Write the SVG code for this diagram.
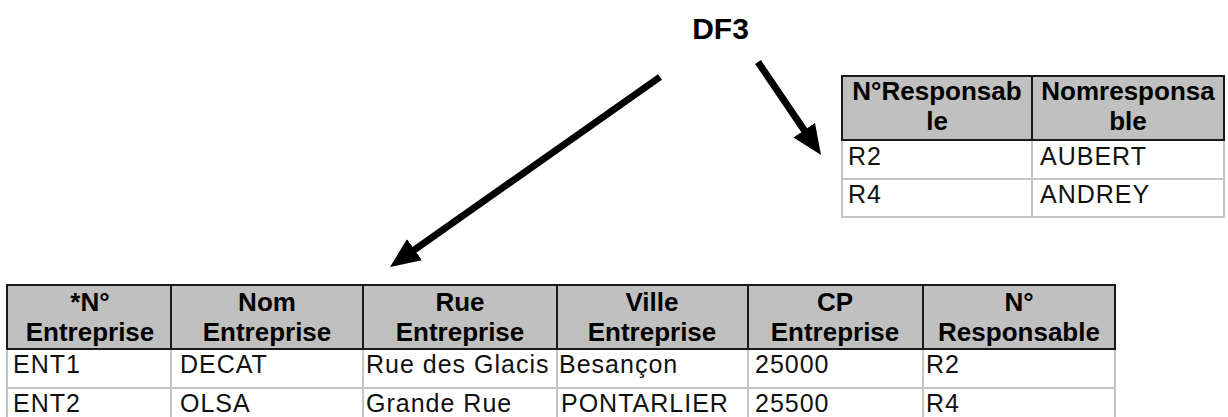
<svg xmlns="http://www.w3.org/2000/svg" width="1228" height="417" viewBox="0 0 1228 417">
  <style>
    .hdr { fill: #c0c0c0; stroke: #1a1a1a; stroke-width: 2; }
    .hdiv { stroke: #1a1a1a; stroke-width: 2; }
    .body { fill: #ffffff; stroke: #c4c4c4; stroke-width: 2; }
    .bdiv { stroke: #c4c4c4; stroke-width: 2; }
    .ht { font-family: "Liberation Sans", Arial, sans-serif; font-weight: bold; font-size: 26px; fill: #000; text-anchor: middle; }
    .bt { font-family: "Liberation Sans", Arial, sans-serif; font-size: 25px; letter-spacing: 1px; fill: #111; }
    .title { font-family: "Liberation Sans", Arial, sans-serif; font-weight: bold; font-size: 30px; fill: #000; text-anchor: middle; }
    .conn { stroke: #000; stroke-width: 7; fill: none; }
  </style>
  <defs>
    <marker id="ah" markerUnits="userSpaceOnUse" markerWidth="32" markerHeight="28" refX="8" refY="13" orient="auto" viewBox="0 0 32 28">
      <path d="M0,0 L30,13 L0,26 z" fill="#000"/>
    </marker>
  </defs>
  <rect width="1228" height="417" fill="#ffffff"/>

  <g id="label-df3">
    <text class="title" x="720.5" y="39">DF3</text>
  </g>

  <g id="connectors">
    <line class="conn" x1="660" y1="77" x2="408" y2="254.3" marker-end="url(#ah)"/>
    <line class="conn" x1="758" y1="62" x2="808.7" y2="136.8" marker-end="url(#ah)"/>
  </g>

  <g id="table-responsable">
    <rect class="body" x="842" y="140" width="382" height="77"/>
    <line class="bdiv" x1="842" y1="179" x2="1224" y2="179"/>
    <line class="bdiv" x1="1032" y1="140" x2="1032" y2="217"/>
    <rect class="hdr" x="842" y="76" width="382" height="64"/>
    <line class="hdiv" x1="1032" y1="76" x2="1032" y2="140"/>
    <text class="ht" x="937" y="100">N°Responsab</text>
    <text class="ht" x="937" y="130">le</text>
    <text class="ht" x="1128" y="100">Nomresponsa</text>
    <text class="ht" x="1128" y="130">ble</text>
    <text class="bt" x="848" y="165">R2</text>
    <text class="bt" x="1040" y="165">AUBERT</text>
    <text class="bt" x="848" y="203">R4</text>
    <text class="bt" x="1040" y="203">ANDREY</text>
  </g>

  <g id="table-entreprise">
    <rect class="body" x="7" y="349" width="1108" height="78"/>
    <line class="bdiv" x1="7" y1="388" x2="1115" y2="388"/>
    <line class="bdiv" x1="171" y1="349" x2="171" y2="427"/>
    <line class="bdiv" x1="363" y1="349" x2="363" y2="427"/>
    <line class="bdiv" x1="557" y1="349" x2="557" y2="427"/>
    <line class="bdiv" x1="748" y1="349" x2="748" y2="427"/>
    <line class="bdiv" x1="923" y1="349" x2="923" y2="427"/>
    <rect class="hdr" x="7" y="285" width="1108" height="64"/>
    <line class="hdiv" x1="171" y1="285" x2="171" y2="349"/>
    <line class="hdiv" x1="363" y1="285" x2="363" y2="349"/>
    <line class="hdiv" x1="557" y1="285" x2="557" y2="349"/>
    <line class="hdiv" x1="748" y1="285" x2="748" y2="349"/>
    <line class="hdiv" x1="923" y1="285" x2="923" y2="349"/>
    <text class="ht" x="90" y="311">*N°</text>
    <text class="ht" x="90" y="341">Entreprise</text>
    <text class="ht" x="267" y="311">Nom</text>
    <text class="ht" x="267" y="341">Entreprise</text>
    <text class="ht" x="460" y="311">Rue</text>
    <text class="ht" x="460" y="341">Entreprise</text>
    <text class="ht" x="652" y="311">Ville</text>
    <text class="ht" x="652" y="341">Entreprise</text>
    <text class="ht" x="835" y="311">CP</text>
    <text class="ht" x="835" y="341">Entreprise</text>
    <text class="ht" x="1019" y="311">N°</text>
    <text class="ht" x="1019" y="341">Responsable</text>
    <text class="bt" x="13" y="373">ENT1</text>
    <text class="bt" x="180" y="373">DECAT</text>
    <text class="bt" x="366" y="373">Rue des Glacis</text>
    <text class="bt" x="559" y="373">Besançon</text>
    <text class="bt" x="755" y="373">25000</text>
    <text class="bt" x="926" y="373">R2</text>
    <text class="bt" x="13" y="412">ENT2</text>
    <text class="bt" x="180" y="412">OLSA</text>
    <text class="bt" x="366" y="412">Grande Rue</text>
    <text class="bt" x="561" y="412">PONTARLIER</text>
    <text class="bt" x="755" y="412">25500</text>
    <text class="bt" x="926" y="412">R4</text>
  </g>
</svg>
